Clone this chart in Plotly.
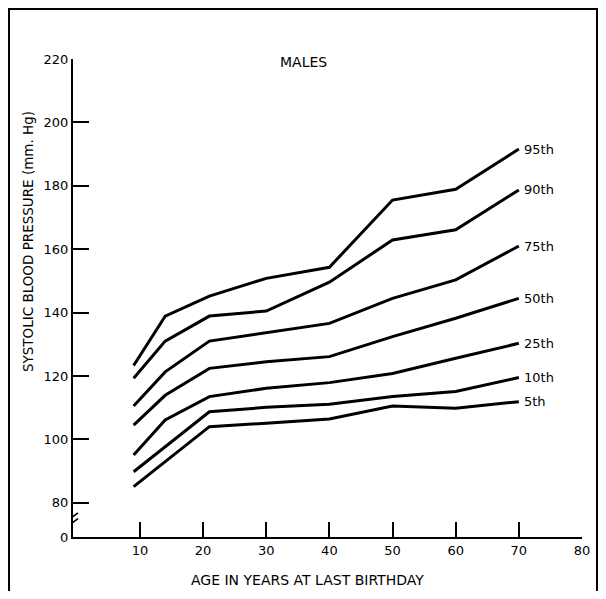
import plotly.graph_objects as go

ages = [9, 14, 21, 30, 40, 50, 60, 70]
p95 = [123.3, 138.9, 145.2, 150.8, 154.3, 175.5, 178.9, 191.6]
p90 = [119.3, 131.0, 138.9, 140.5, 149.6, 162.9, 166.1, 178.7]
p75 = [110.5, 121.3, 131.0, 133.7, 136.6, 144.5, 150.3, 161.0]
p50 = [104.5, 113.9, 122.4, 124.5, 126.1, 132.4, 138.2, 144.5]
p25 = [95.1, 106.1, 113.5, 116.1, 117.9, 120.8, 125.6, 130.3]
p10 = [89.8, 97.7, 108.7, 110.1, 111.1, 113.5, 115.1, 119.5]
p5 = [85.1, 93.0, 104.0, 105.1, 106.4, 110.5, 109.8, 111.9]
series = [("95th", p95), ("90th", p90), ("75th", p75), ("50th", p50),
          ("25th", p25), ("10th", p10), ("5th", p5)]

x_ticks = [10, 20, 30, 40, 50, 60, 70, 80]
y_ticks = [69.2, 80, 100, 120, 140, 160, 180, 200, 220]
y_ticktext = ["0", "80", "100", "120", "140", "160", "180", "200", "220"]

FONT = "DejaVu Sans, Arial, sans-serif"

fig = go.Figure()
for name, vals in series:
    fig.add_trace(go.Scatter(x=ages, y=vals, mode="lines", name=name,
                             line=dict(color="black", width=3),
                             showlegend=False, hoverinfo="skip"))
    fig.add_annotation(x=ages[-1], y=vals[-1], text=name, showarrow=False,
                       xanchor="left", yanchor="middle", xshift=3,
                       font=dict(family=FONT, size=13, color="black"))

fig.add_annotation(x=0.452, y=219, xref="paper", yref="y", text="MALES",
                   showarrow=False, xanchor="center", yanchor="middle",
                   font=dict(family=FONT, size=14, color="black"))

# axis titles
fig.add_annotation(x=0.46, y=-0.09, xref="paper", yref="paper",
                   text="AGE IN YEARS AT LAST BIRTHDAY", showarrow=False,
                   xanchor="center", yanchor="middle",
                   font=dict(family=FONT, size=14, color="black"))
fig.add_annotation(x=-0.0884, y=0.617, xref="paper", yref="paper",
                   text="SYSTOLIC BLOOD PRESSURE (mm. Hg)", showarrow=False,
                   textangle=-90, xanchor="center", yanchor="middle",
                   font=dict(family=FONT, size=13.5, color="black"))

# axis break marks
fig.add_shape(type="line", x0=-0.6, x1=-0.6, y0=72.5, y1=75.5,
              line=dict(color="white", width=4))
fig.add_shape(type="line", x0=-1.2, x1=0.2, y0=73.0, y1=75.0,
              line=dict(color="black", width=1.5))
fig.add_shape(type="line", x0=-1.2, x1=0.2, y0=74.8, y1=76.8,
              line=dict(color="black", width=1.5))

# frame around the figure
fig.add_shape(type="rect", xref="paper", yref="paper",
              x0=-0.1257, x1=1.0295, y0=-0.2, y1=1.1046,
              line=dict(color="black", width=2), fillcolor="rgba(0,0,0,0)",
              layer="below")

fig.update_layout(
    width=590, height=583,
    margin=dict(l=65, r=16, t=51, b=54),
    plot_bgcolor="white", paper_bgcolor="white",
    font=dict(family=FONT, size=13, color="black"),
    xaxis=dict(range=[-0.6, 80], tickvals=x_ticks, ticks="inside",
               ticklen=15, tickwidth=2, tickcolor="black",
               showline=True, linecolor="black", linewidth=2,
               showgrid=False, zeroline=False, automargin=False,
               tickfont=dict(family=FONT, size=13)),
    yaxis=dict(range=[69.2, 220], tickvals=y_ticks, ticktext=y_ticktext,
               ticks="inside", ticklen=16, tickwidth=2, tickcolor="black",
               showline=True, linecolor="black", linewidth=2,
               showgrid=False, zeroline=False, automargin=False,
               tickfont=dict(family=FONT, size=13)),
)

fig.write_html("out.html")
